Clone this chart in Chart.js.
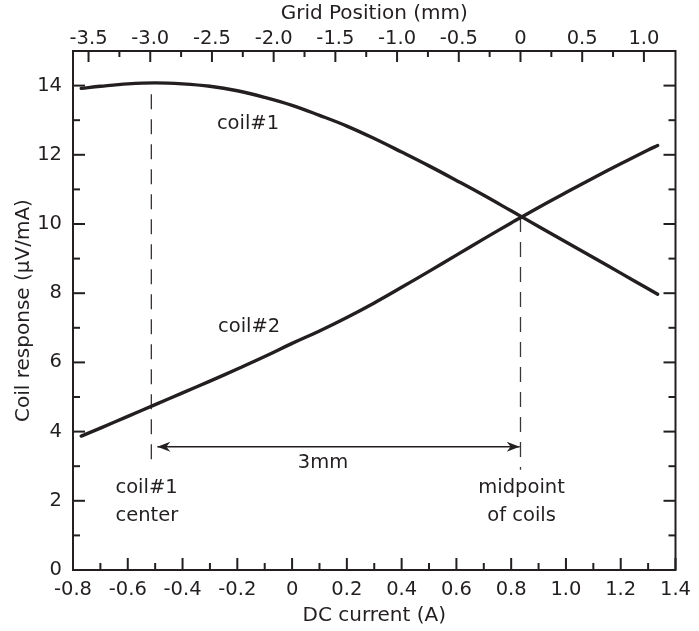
<!DOCTYPE html>
<html><head><meta charset="utf-8">
<script src="https://cdn.jsdelivr.net/npm/chart.js@4/dist/chart.umd.min.js"></script>
<style>html,body{margin:0;padding:0;background:#fff}#wrap{width:699px;height:631px;position:relative}</style>
</head><body><div id="wrap"><canvas id="c"></canvas></div>
<script>
// ---- data ----
const current = [-0.77,-0.7,-0.6,-0.5,-0.4,-0.3,-0.2,-0.1,0,0.1,0.2,0.3,0.4,0.5,0.6,0.7,0.8,0.9,1.0,1.1,1.2,1.3,1.335];
const coil1 = [13.92,13.98,14.05,14.08,14.05,13.98,13.85,13.66,13.43,13.14,12.83,12.47,12.08,11.68,11.26,10.83,10.38,9.93,9.48,9.03,8.58,8.13,7.97];
const coil2 = [3.87,4.10,4.44,4.78,5.12,5.46,5.81,6.17,6.55,6.91,7.30,7.72,8.17,8.63,9.10,9.57,10.03,10.48,10.91,11.33,11.74,12.14,12.27];
const centerLineX = [-0.514,-0.514], centerLineY = [13.75,2.97];
const midLineX = [0.834,0.834], midLineY = [10.2,2.9];
const arrowX = [-0.492,0.831], arrowY = [3.565,3.565];
const bottomTicks = [-0.8,-0.6,-0.4,-0.2,0,0.2,0.4,0.6,0.8,1.0,1.2,1.4];
const bottomMinor = [-0.7,-0.5,-0.3,-0.1,0.1,0.3,0.5,0.7,0.9,1.1,1.3];
const topTicks = [-3.5,-3.0,-2.5,-2.0,-1.5,-1.0,-0.5,0,0.5,1.0];
const topMinor = [-3.25,-2.75,-2.25,-1.75,-1.25,-0.75,-0.25,0.25,0.75,1.25];
const yTicks = [0,2,4,6,8,10,12,14];
const yMinor = [1,3,5,7,9,11,13,15];
const mmZeroCurrent = 0.834, mmPerAmp = 2.219;
const xMin = -0.8, xMax = 1.4, yMin = 0, yMax = 15;

const INK = '#231f20';
const FONT = 'DejaVu Sans';
const fmt = v => v === 0 ? '0' : v.toFixed(1);
const pts = (xs, ys) => xs.map((x, i) => ({x, y: ys[i]}));

const overlay = {
  id: 'overlay',
  afterDatasetsDraw(chart) {
    const {ctx, chartArea: a, scales} = chart;
    const x = scales.x, x2 = scales.x2, y = scales.y;
    ctx.save();
    ctx.strokeStyle = INK; ctx.fillStyle = INK;
    ctx.lineWidth = 2;
    ctx.strokeRect(a.left, a.top, a.right - a.left, a.bottom - a.top);
    const tick = (px, py, dx, dy) => { ctx.beginPath(); ctx.moveTo(px, py); ctx.lineTo(px + dx, py + dy); ctx.stroke(); };
    const MAJ = 12, MIN = 7;
    bottomTicks.forEach(v => tick(x.getPixelForValue(v), a.bottom, 0, -MAJ));
    bottomMinor.forEach(v => tick(x.getPixelForValue(v), a.bottom, 0, -MIN));
    topTicks.forEach(v => tick(x2.getPixelForValue(v), a.top, 0, MAJ - 1));
    topMinor.forEach(v => { const p = x2.getPixelForValue(v); if (p < a.right - 2) tick(p, a.top, 0, MIN - 1); });
    yTicks.forEach(v => { const p = y.getPixelForValue(v); tick(a.left, p, MAJ, 0); tick(a.right, p, -MAJ, 0); });
    yMinor.forEach(v => { const p = y.getPixelForValue(v); if (p > a.top + 2) { tick(a.left, p, MIN, 0); tick(a.right, p, -MIN, 0); } });
    // arrow heads
    const ay = y.getPixelForValue(arrowY[0]);
    const head = (tipX, dir) => {
      ctx.beginPath();
      ctx.moveTo(tipX, ay);
      ctx.lineTo(tipX - dir * 13, ay - 5);
      ctx.lineTo(tipX - dir * 9, ay);
      ctx.lineTo(tipX - dir * 13, ay + 5);
      ctx.closePath(); ctx.fill();
    };
    head(x.getPixelForValue(arrowX[0]), -1);
    head(x.getPixelForValue(arrowX[1]), 1);
    // annotations
    ctx.font = '19.5px "' + FONT + '"';
    ctx.textBaseline = 'middle';
    const txt = (s, cx, cy, al) => { ctx.textAlign = al || 'center'; ctx.fillText(s, x.getPixelForValue(cx), y.getPixelForValue(cy)); };
    txt('coil#1', -0.161, 12.89);
    txt('coil#2', -0.157, 7.03);
    txt('3mm', 0.113, 3.09);
    txt('coil#1', -0.645, 2.37, 'left');
    txt('center', -0.645, 1.56, 'left');
    txt('midpoint', 0.838, 2.37);
    txt('of coils', 0.838, 1.56);
    ctx.restore();
  }
};

const gridOff = {display: false, drawTicks: false, drawOnChartArea: false};
const tickFont = {family: FONT, size: 19.5};
const titleFont = {family: FONT, size: 20};

new Chart(document.getElementById('c'), {
  type: 'line',
  data: {
    datasets: [
      {data: pts(current, coil1), borderColor: INK, borderWidth: 3.4, pointRadius: 0, tension: 0.4, borderCapStyle: 'round'},
      {data: pts(current, coil2), borderColor: INK, borderWidth: 3.4, pointRadius: 0, tension: 0.4, borderCapStyle: 'round'},
      {data: pts(centerLineX, centerLineY), borderColor: '#3a3637', borderWidth: 1.3, borderDash: [15, 10], pointRadius: 0},
      {data: pts(midLineX, midLineY), borderColor: '#3a3637', borderWidth: 1.3, borderDash: [15, 10], pointRadius: 0},
      {data: pts(arrowX, arrowY), borderColor: INK, borderWidth: 1.5, pointRadius: 0}
    ]
  },
  options: {
    responsive: true, maintainAspectRatio: false, animation: false,
    layout: {padding: {left: 0, right: 16, top: 0, bottom: 0}},
    plugins: {legend: {display: false}, tooltip: {enabled: false}},
    scales: {
      x: {
        type: 'linear', position: 'bottom', min: xMin, max: xMax,
        grid: gridOff, border: {display: false},
        afterBuildTicks: s => { s.ticks = bottomTicks.map(v => ({value: v})); },
        afterFit: s => { s.height = 61; },
        ticks: {color: INK, font: tickFont, padding: 8, maxRotation: 0, autoSkip: false, callback: v => fmt(v)},
        title: {display: true, text: 'DC current (A)', color: INK, font: titleFont, padding: {top: 0, bottom: 3}}
      },
      x2: {
        type: 'linear', position: 'top',
        min: (xMin - mmZeroCurrent) * mmPerAmp, max: (xMax - mmZeroCurrent) * mmPerAmp,
        grid: gridOff, border: {display: false},
        afterBuildTicks: s => { s.ticks = topTicks.map(v => ({value: v})); },
        afterFit: s => { s.height = 51; },
        ticks: {color: INK, font: tickFont, padding: 0, maxRotation: 0, autoSkip: false, callback: v => fmt(v)},
        title: {display: true, text: 'Grid Position (mm)', color: INK, font: titleFont, padding: {top: 2, bottom: 0}}
      },
      y: {
        type: 'linear', position: 'left', min: yMin, max: yMax,
        grid: gridOff, border: {display: false},
        afterBuildTicks: s => { s.ticks = yTicks.map(v => ({value: v})); },
        afterFit: s => { s.width = 73; },
        ticks: {color: INK, font: tickFont, padding: 11, autoSkip: false, callback: v => String(v)},
        title: {display: true, text: 'Coil response (\u03BCV/mA)', color: INK, font: titleFont, padding: {top: 12, bottom: 0}}
      }
    }
  },
  plugins: [overlay]
});
</script></body></html>
